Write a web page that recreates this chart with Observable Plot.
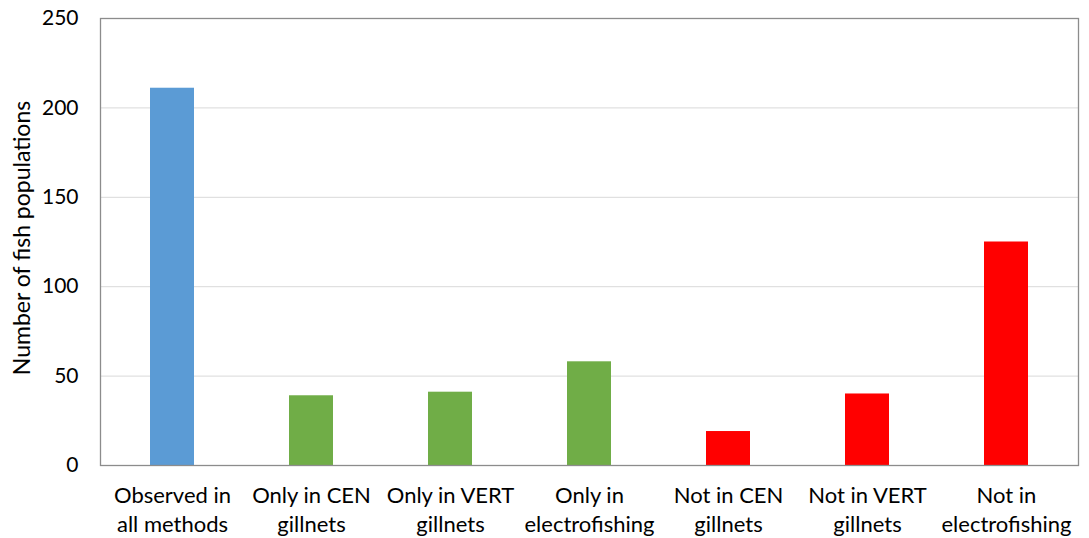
<!DOCTYPE html>
<html><head><meta charset="utf-8">
<script src="https://cdn.jsdelivr.net/npm/d3@7"></script>
<script src="https://cdn.jsdelivr.net/npm/@observablehq/plot@0.6"></script>
<style>body{margin:0;background:#fff;} svg{display:block;}</style>
</head><body><div id="chart"></div>
<script>
const categories = ["Observed in\nall methods","Only in CEN\ngillnets","Only in VERT\ngillnets","Only in\nelectrofishing","Not in CEN\ngillnets","Not in VERT\ngillnets","Not in\nelectrofishing"];
const values = [211, 39, 41, 58, 19, 40, 125];
const groups = ["all","only","only","only","not","not","not"];
const yTicks = [0, 50, 100, 150, 200, 250];
const gridTicks = [50, 100, 150, 200];
const yLabel = "Number of fish populations";
const colorDomain = ["all","only","not"];
const colorRange = ["#5B9BD5","#70AD47","#FF0000"];
const data = categories.map((c,i)=>({cat:c, value:values[i], group:groups[i]}));
const chart = Plot.plot({
  width: 1089, height: 538,
  marginLeft: 100, marginRight: 11, marginTop: 18, marginBottom: 73,
  style: {fontFamily: "Lato, 'Open Sans', sans-serif", fontSize: "21px", color: "#000", background: "#fff"},
  x: {domain: categories, paddingInner: 0.685, paddingOuter: 0.3425, label: null},
  y: {domain: [0, 250], label: null},
  color: {domain: colorDomain, range: colorRange},
  marks: [
    Plot.gridY(gridTicks, {stroke: "#d9d9d9", strokeOpacity: 1}),
    Plot.barY(data, {x: "cat", y: "value", fill: "group"}),
    Plot.frame({stroke: "#8c8c8c", strokeWidth: 1.3}),
    Plot.axisY(yTicks, {tickSize: 0, tickPadding: 22, fontSize: 21, label: null}),
    Plot.text([yLabel], {frameAnchor: "left", rotate: -90, textAnchor: "middle", dx: -78, dy: -4, fontSize: 23, fill: "#000"}),
    Plot.axisX({tickSize: 0, tickPadding: 17, fontSize: 22, lineHeight: 1.32, label: null})
  ]
});
document.getElementById("chart").appendChild(chart);
</script></body></html>
